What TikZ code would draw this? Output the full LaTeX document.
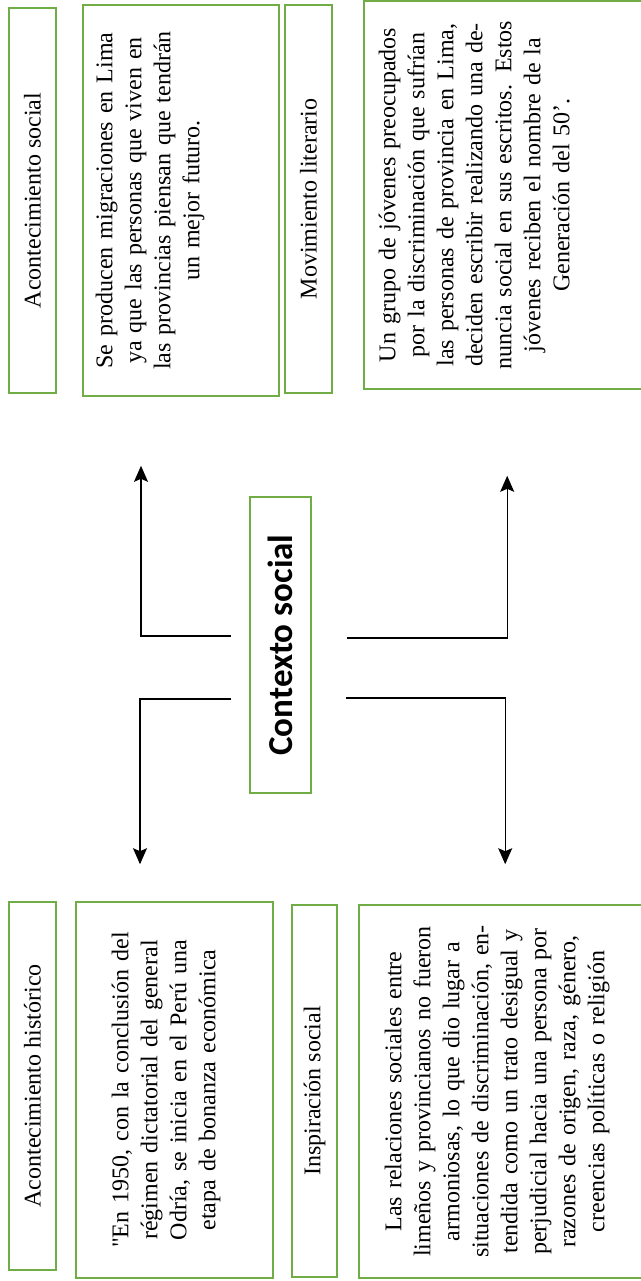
\documentclass[tikz,border=0pt]{standalone}
\usepackage{fontspec}
\setmainfont{Liberation Serif}
\newfontfamily\calibri{Carlito}
\usetikzlibrary{arrows.meta}
\definecolor{boxgreen}{RGB}{112,173,71}
\newcommand{\pxu}{0.5pt}
\tikzset{
	greenbox/.style={draw=boxgreen, line width=0.8pt, inner sep=0pt},
	labeltext/.style={greenbox, rotate=90, font=\fontsize{12}{14.5}\selectfont},
	bodytext/.style={rotate=90, anchor=north, inner sep=0pt, align=center,
		text width=186pt, font=\fontsize{12}{14.5}\selectfont},
	arr/.style={-{Stealth[length=8pt,width=7pt,inset=1.5pt]}, line width=0.55pt},
}

\begin{document}
\begin{tikzpicture}[x=0.5pt, y=-0.5pt]
	\useasboundingbox (0,0) rectangle (641,1281);

	% centre
	\node[draw=boxgreen, line width=0.6pt, rotate=90, minimum width=296*\pxu,
		minimum height=61*\pxu, font=\calibri\bfseries\fontsize{17.5}{20}\selectfont]
		(ctx) at (280.5,645) {Contexto social};

	% headings
	\node[labeltext, minimum width=368*\pxu, minimum height=47*\pxu] (histlab) at (32.5,1086) {Acontecimiento histórico};
	\node[labeltext, minimum width=372*\pxu, minimum height=45*\pxu] (insplab) at (314.5,1091) {Inspiración social};
	\node[labeltext, minimum width=385*\pxu, minimum height=47*\pxu] (soclab) at (32.5,200.5) {Acontecimiento social};
	\node[labeltext, minimum width=388*\pxu, minimum height=47*\pxu] (litlab) at (308.5,199) {Movimiento literario};

	% text boxes
	\node[greenbox, minimum width=197*\pxu, minimum height=376*\pxu] (histbox) at (174.5,1090) {};
	\node[greenbox, minimum width=290*\pxu, minimum height=373*\pxu] (inspbox) at (504,1091.5) {};
	\node[greenbox, minimum width=196*\pxu, minimum height=391*\pxu] (socbox) at (181,200.5) {};
	\node[greenbox, minimum width=286*\pxu, minimum height=388*\pxu] (litbox) at (507,195) {};

	\node[bodytext] (histtxt) at ([shift={(36,0)}]histbox.west)
		{\textquotedbl En 1950, con la conclusión del\\ régimen dictatorial del general\\ Odría, se inicia en el Perú una\\ etapa de bonanza económica};
	\node[bodytext] (insptxt) at ([shift={(26,0)}]inspbox.west)
		{Las relaciones sociales entre\\ limeños y provincianos no fueron\\ armoniosas, lo que dio lugar a\\ situaciones de discriminación, en-\\ tendida como un trato desigual y\\ perjudicial hacia una persona por\\ razones de origen, raza, género,\\ creencias políticas o religión};
	\node[bodytext] (soctxt) at ([shift={(13,0)}]socbox.west)
		{Se producen migraciones en Lima\\ ya que las personas que viven en\\ las provincias piensan que tendrán\\ un mejor futuro.};
	\node[bodytext] (littxt) at ([shift={(15,0)}]litbox.west)
		{Un grupo de jóvenes preocupados\\ por la discriminación que sufrían\\ las personas de provincia en Lima,\\ deciden escribir realizando una de-\\ nuncia social en sus escritos. Estos\\ jóvenes reciben el nombre de la\\ Generación del 50'.};

	% arrows
	\draw[arr] ([shift={(-49.5,-9)}]ctx.center) -| ([shift={(-40,69)}]socbox.south);
	\draw[arr] ([shift={(-49.5,54)}]ctx.center) -| ([shift={(-34.5,-37)}]histbox.north);
	\draw[arr] ([shift={(66.5,-7)}]ctx.center) -| ([shift={(144,86)}]litbox.south west);
	\draw[arr] ([shift={(65.5,53)}]ctx.center) -| ([shift={(147,-40)}]inspbox.north west);
\end{tikzpicture}
\end{document}
